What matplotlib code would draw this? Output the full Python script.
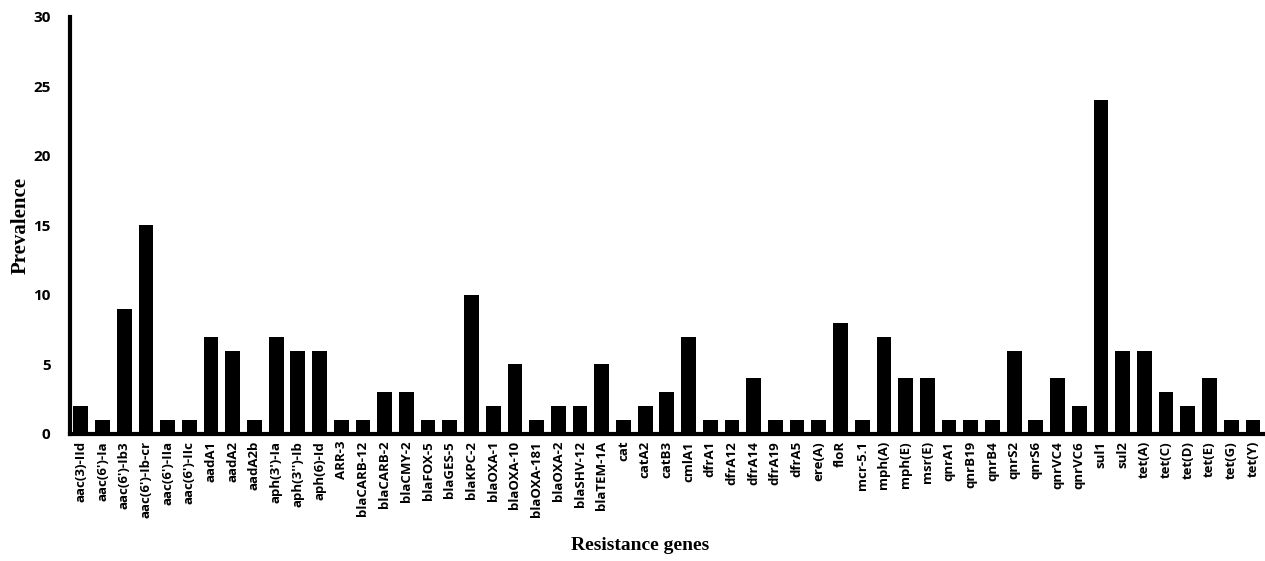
import matplotlib
matplotlib.use('Agg')
import matplotlib.pyplot as plt
import numpy as np

genes = ["aac(3)-IId", "aac(6')-Ia", "aac(6')-Ib3", "aac(6')-Ib-cr", "aac(6')-IIa", "aac(6')-IIc",
         "aadA1", "aadA2", "aadA2b", "aph(3')-Ia", "aph(3'')-Ib", "aph(6)-Id", "ARR-3",
         "blaCARB-12", "blaCARB-2", "blaCMY-2", "blaFOX-5", "blaGES-5", "blaKPC-2", "blaOXA-1",
         "blaOXA-10", "blaOXA-181", "blaOXA-2", "blaSHV-12", "blaTEM-1A", "cat", "catA2", "catB3",
         "cmlA1", "dfrA1", "dfrA12", "dfrA14", "dfrA19", "dfrA5", "ere(A)", "floR", "mcr-5.1",
         "mph(A)", "mph(E)", "msr(E)", "qnrA1", "qnrB19", "qnrB4", "qnrS2", "qnrS6", "qnrVC4",
         "qnrVC6", "sul1", "sul2", "tet(A)", "tet(C)", "tet(D)", "tet(E)", "tet(G)", "tet(Y)"]
prevalence = [2, 1, 9, 15, 1, 1,
              7, 6, 1, 7, 6, 6, 1,
              1, 3, 3, 1, 1, 10, 2,
              5, 1, 2, 2, 5, 1, 2, 3,
              7, 1, 1, 4, 1, 1, 1, 8, 1,
              7, 4, 4, 1, 1, 1, 6, 1, 4,
              2, 24, 6, 6, 3, 2, 4, 1, 1]
yticks = [0, 5, 10, 15, 20, 25, 30]

fig = plt.figure(figsize=(12.65, 5.61), dpi=100)
ax = fig.add_axes([0.0553, 0.2264, 0.9437, 0.7433])

x = np.arange(len(genes))
ax.bar(x, prevalence, width=0.68, color='black')

ax.set_xlim(-0.5, len(genes) - 0.5)
ax.set_ylim(0, 30)
ax.set_yticks(yticks)
ax.set_yticklabels([str(v) for v in yticks], fontsize=11, fontweight='bold', family='Open Sans')
ax.set_xticks(x)
ax.set_xticklabels(genes, rotation=90, fontsize=9.5, fontweight='bold', family='Open Sans')
ax.tick_params(axis='x', length=0, pad=5)
ax.tick_params(axis='y', length=0, pad=14)

for s in ['top', 'right']:
    ax.spines[s].set_visible(False)
ax.spines['left'].set_linewidth(3)
ax.spines['bottom'].set_linewidth(3)

ax.set_ylabel('Prevalence', fontsize=15, fontweight='bold', family='Liberation Serif', labelpad=2)
fig.text(0.506, 0.028, 'Resistance genes', fontsize=14, fontweight='bold',
         family='Liberation Serif', ha='center', va='center')

fig.savefig('out.png', dpi=100)
